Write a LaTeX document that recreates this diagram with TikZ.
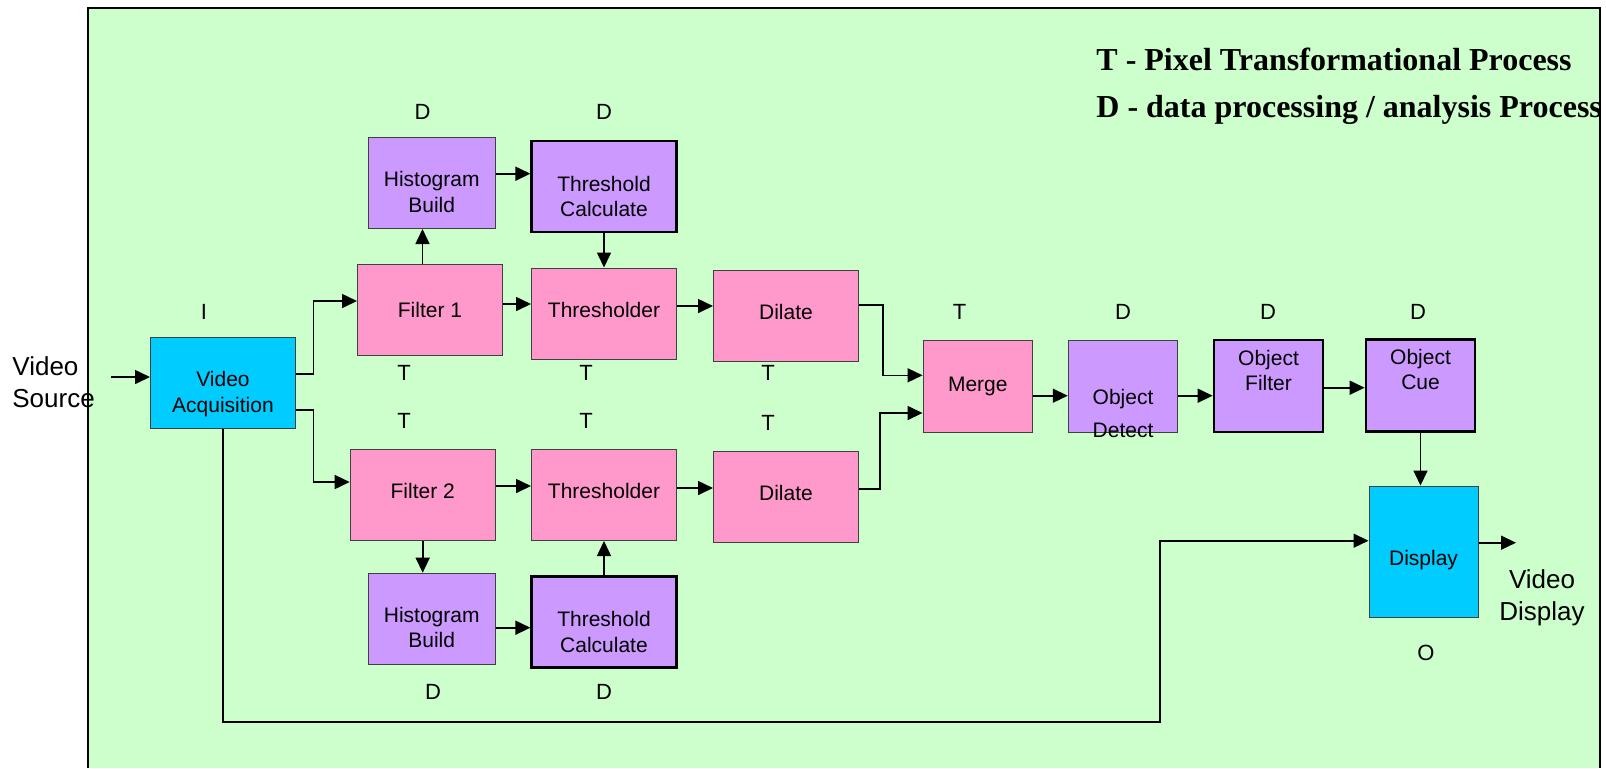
\documentclass[tikz,border=0pt]{standalone}
\usepackage{fontspec}
\setmainfont{Liberation Serif}
\setsansfont{Liberation Sans}
\usetikzlibrary{arrows.meta}
\definecolor{vidCyan}{HTML}{00CCFF}
\definecolor{pixPink}{HTML}{FF99CC}
\definecolor{datPurple}{HTML}{CC99FF}
\definecolor{bgGreen}{HTML}{CCFFCC}
\definecolor{boxGray}{HTML}{404040}

\begin{document}
\begin{tikzpicture}[x=0.5pt, y=-0.5pt,
    box/.style={rectangle, draw=boxGray, line width=0.5pt, inner sep=0pt, align=center,
      minimum width=72.5pt, minimum height=45.5pt, font=\sffamily\fontsize{10.5}{12.6}\selectfont},
    ibox/.style={box, fill=vidCyan},
    tbox/.style={box, fill=pixPink},
    dbox/.style={box, fill=datPurple},
    narrow/.style={minimum width=63.5pt},
    slim/.style={minimum width=54.75pt, minimum height=46pt},
    heavy/.style={draw=black, line width=1.1pt},
    lift/.style={text depth=4pt},
    boxtext/.style={align=center, inner sep=0pt, font=\sffamily\fontsize{10.5}{12.6}\selectfont},
    tag/.style={inner sep=0pt, font=\sffamily\fontsize{11}{13}\selectfont},
    outtext/.style={align=left, inner sep=0pt, font=\sffamily\fontsize{13}{16}\selectfont},
    legend/.style={anchor=base west, inner sep=0pt, font=\rmfamily\bfseries\fontsize{16}{19}\selectfont},
    arr/.style={-{Triangle[length=7.5pt,width=7pt]}, line width=0.8pt}]

\useasboundingbox (0,0) rectangle (1606,768);

% Background panel
\fill[bgGreen] (88,8) rectangle (1600,768);
\draw[line width=1pt] (88,768) -- (88,8) -- (1600,8) -- (1600,768);

% Legend
\node[legend] (legT) at (1096,70) {T - Pixel Transformational Process};
\node[legend] (legD) at (1096,117) {D - data processing / analysis Process};

% Input and output
\node[ibox, label={[boxtext, yshift=-5.75pt]center:Video\\Acquisition}] (va) at (223,382.5) {};
\node[ibox, slim, minimum width=54.5pt, minimum height=65.5pt,
  label={[boxtext, yshift=-4.5pt]center:Display}] (dp) at (1423.5,551.5) {};

% Upper branch
\node[tbox] (f1) at (430,310) {Filter 1};
\node[dbox, narrow, label={[boxtext, yshift=-4.5pt]center:Histogram\\Build}] (hb1) at (431.7,183) {};
\node[dbox, heavy, label={[boxtext, yshift=-5pt]center:Threshold\\Calculate}] (tc1) at (604,186.5) {};
\node[tbox, lift] (th1) at (604,313.5) {Thresholder};
\node[tbox, lift] (dl1) at (786,316) {Dilate};

% Lower branch
\node[tbox, lift] (f2) at (422.7,495) {Filter 2};
\node[dbox, narrow, label={[boxtext, yshift=-4.5pt]center:Histogram\\Build}] (hb2) at (431.7,618.7) {};
\node[dbox, heavy, label={[boxtext, yshift=-5pt]center:Threshold\\Calculate}] (tc2) at (604,622) {};
\node[tbox, lift] (th2) at (604,495) {Thresholder};
\node[tbox, lift] (dl2) at (786,497) {Dilate};

% Object chain
\node[tbox, slim] (mg) at (977.8,386) {Merge};
\node[dbox, slim, label={[boxtext, yshift=-13.7pt]center:Object\\[4pt]Detect}] (od) at (1123,386) {};
\node[dbox, slim, heavy, label={[boxtext, yshift=7.9pt]center:Object\\Filter}] (of) at (1268.5,386) {};
\node[dbox, slim, heavy, label={[boxtext, yshift=8.2pt]center:Object\\Cue}] (oc) at (1420.5,385.5) {};

% Outside texts
\node[outtext, anchor=west] (vsrc) at (12,382) {Video\\Source};
\node[outtext, align=center] (vdsp) at (1542,598) {Video\\Display};
\coordinate (vin) at (111,377);
\coordinate (vout) at (1516,542.7);
\coordinate (byp) at (1160,722);

% Process type tags
\foreach \x/\y/\t [count=\i] in {204/312/I, 422.5/111.7/D, 604/111.7/D,
    404/373/T, 586/373/T, 768/373/T, 404/421/T, 586/421/T, 768/423/T,
    959.6/312/T, 1123/312/D, 1268/312/D, 1418/312/D,
    433/691.7/D, 604/691.7/D, 1426/652.7/O}
  \node[tag] (tag\i) at (\x,\y) {\t};

% Connectors
\draw[arr] (vin) -- (vin -| va.west);
\draw[arr] ([yshift=4.4pt]va.east) -- ++(8.8pt,0) |- ([yshift=4.5pt]f1.west);
\draw[arr] ([yshift=-13.75pt]va.east) -- ++(8.8pt,0) |- ([yshift=6.5pt]f2.west);
\draw[arr] ([xshift=-3.75pt]f1.north) -- ([xshift=-3.75pt]f1.north |- hb1.south);
\draw[arr] ([yshift=4.65pt]hb1.east) -- ([yshift=4.65pt]hb1.east -| tc1.west);
\draw[arr] ([yshift=3pt]f1.east) -- ([yshift=3pt]f1.east -| th1.west);
\draw[arr] (tc1.south) -- (th1.north);
\draw[arr] ([yshift=3.75pt]th1.east) -- ([yshift=3.75pt]th1.east -| dl1.west);
\draw[arr] ([yshift=5.5pt]dl1.east) -- ++(12pt,0) |- ([yshift=5.35pt]mg.west);
\draw[arr] (f2.south) -- (f2.south |- hb2.north);
\draw[arr] ([yshift=-4.5pt]hb2.east) -- ([yshift=-4.5pt]hb2.east -| tc2.west);
\draw[arr] ([yshift=4.5pt]f2.east) -- ([yshift=4.5pt]f2.east -| th2.west);
\draw[arr] (tc2.north) -- (th2.south);
\draw[arr] ([yshift=3.5pt]th2.east) -- ([yshift=3.5pt]th2.east -| dl2.west);
\draw[arr] ([yshift=4pt]dl2.east) -- ++(10.5pt,0) |- ([yshift=-13.5pt]mg.west);
\draw[arr] ([yshift=-4.85pt]mg.east) -- ([yshift=-4.85pt]mg.east -| od.west);
\draw[arr] ([yshift=-4.85pt]od.east) -- ([yshift=-4.85pt]od.east -| of.west);
\draw[arr] ([yshift=-0.85pt]of.east) -- ([yshift=-0.85pt]of.east -| oc.west);
\draw[arr] (oc.south) -- (oc.south |- dp.north);
\draw[arr] (vout -| dp.east) -- (vout);
\draw[arr] (va.south) |- (byp) |- ([yshift=5.4pt]dp.west);
\end{tikzpicture}
\end{document}
